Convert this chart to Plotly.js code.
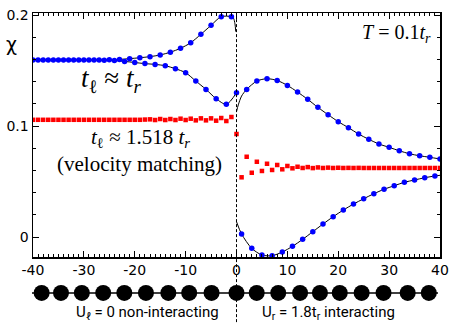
<!DOCTYPE html>
<html><head><meta charset="utf-8">
<script src="https://cdn.plot.ly/plotly-3.0.1.min.js"></script>
<style>html,body{margin:0;padding:0;background:#fff}#chart{width:450px;height:324px}</style>
</head><body><div id="chart"></div>
<script>
// Left lead (t_l ≈ t_r): odd sites (upper branch) and even sites (lower branch)
const leftOddX = [-39,-37,-35,-33,-31,-29,-27,-25,-23,-21,-19,-17,-15,-13,-11,-9,-7,-5,-3,-1];
const leftOddY = [0.1595,0.1595,0.1595,0.1595,0.1595,0.1595,0.1595,0.1597,0.16,0.1607,0.1615,0.1625,0.164,0.1665,0.170,0.175,0.1826,0.1907,0.1985,0.1985];
const leftEvenX = [-40,-38,-36,-34,-32,-30,-28,-26,-24,-22,-20,-18,-16,-14,-12,-10,-8,-6,-4,-2,0];
const leftEvenY = [0.1595,0.1595,0.1595,0.1595,0.1595,0.1595,0.1595,0.1593,0.159,0.1582,0.1572,0.1562,0.1555,0.1543,0.1516,0.148,0.1405,0.133,0.1246,0.1195,0.130];
// Right lead: even sites (upper branch) and odd sites (lower branch)
const rightEvenX = [2,4,6,8,10,12,14,16,18,20,22,24,26,28,30,32,34,36,38,40];
const rightEvenY = [0.133,0.1405,0.1426,0.141,0.1366,0.1306,0.124,0.1168,0.1102,0.1039,0.0985,0.0928,0.088,0.0838,0.0808,0.0777,0.075,0.0732,0.0718,0.0703];
const rightOddX = [1,3,5,7,9,11,13,15,17,19,21,23,25,27,29,31,33,35,37,39];
const rightOddY = [0.0027,-0.0102,-0.0162,-0.0168,-0.0135,-0.0084,-0.0021,0.0048,0.0117,0.0183,0.0243,0.0297,0.0345,0.039,0.043,0.0462,0.0493,0.0514,0.0534,0.055];
// Theory-curve end pieces near the junction
const upLeftEndX = [-0.6,-0.3,-0.15];  const upLeftEndY = [0.1972,0.192,0.185];
const upRightStartX = [0,0.35,1];      const upRightStartY = [0.1129,0.119,0.127];
const lowRightStartX = [0];            const lowRightStartY = [0.0138];
const lowRightEndX = [40];             const lowRightEndY = [0.0556];
// Velocity matching (t_l ≈ 1.518 t_r)
const redX = [];
for (let i = -40; i <= 40; i++) redX.push(i);
const redLeftY = [0.1056,0.1056,0.1056,0.1056,0.1056,0.1056,0.1056,0.1056,0.1056,0.1056,
  0.1056,0.1056,0.1056,0.1056,0.1056,0.1056,0.1056,0.1056,0.1056,0.1056,
  0.1056,0.1056,0.1058,0.106,0.1054,0.1063,0.1054,0.1063,0.1054,0.1066,
  0.1054,0.1066,0.1051,0.1069,0.1051,0.1069,0.1048,0.1072,0.1045,0.1081];
const redRightY = [0.0928,0.0538,0.0723,0.0579,0.0678,0.0595,0.066,0.0604,0.0649,0.061,
  0.064,0.0619,0.0633,0.0622,0.063,0.0621,0.0627,0.0622,0.0625,0.0622,
  0.0624,0.0622,0.0623,0.0622,0.0623,0.0622,0.0622,0.0622,0.0622,0.0622,
  0.0622,0.0622,0.0622,0.0622,0.0622,0.0622,0.0622,0.0622,0.0622,0.0622,0.0622];
const redY = redLeftY.concat(redRightY);
// Lattice sites drawn under the axis
const chainSites = [-38.3,-34.5,-30.4,-26.2,-22.05,-17.8,-13.4,-9.3,-4.9,0,3.97,8.2,12.5,16.4,20.3,24.6,28.9,33.65,37.8];
const xTicks = [-40,-30,-20,-10,0,10,20,30,40];
const yTicks = [0,0.1,0.2];
const yTickText = ['0','0.1','0.2'];

const xRange = [-40, 40];
const yRange = [-0.018, 0.2018];
const line = {color:'black', width:1, shape:'spline', smoothing:0.8};
const blueDot = {color:'#0000ff', size:5.5};
const traces = [
  {x: leftOddX.concat(upLeftEndX), y: leftOddY.concat(upLeftEndY), mode:'lines', line: line},
  {x: leftEvenX, y: leftEvenY, mode:'lines', line: line},
  {x: upRightStartX.concat(rightEvenX), y: upRightStartY.concat(rightEvenY), mode:'lines', line: line},
  {x: lowRightStartX.concat(rightOddX, lowRightEndX), y: lowRightStartY.concat(rightOddY, lowRightEndY), mode:'lines', line: line},
  {x: redX, y: redY, xaxis:'x2', yaxis:'y3', mode:'markers', marker:{symbol:'square', color:'#ff0000', size:4.5}},
  {x: leftOddX, y: leftOddY, mode:'markers', marker: blueDot},
  {x: leftEvenX, y: leftEvenY, mode:'markers', marker: blueDot},
  {x: rightEvenX, y: rightEvenY, mode:'markers', marker: blueDot},
  {x: rightOddX, y: rightOddY, mode:'markers', marker: blueDot},
  {x: chainSites, y: chainSites.map(() => 0), yaxis:'y2', mode:'markers', marker:{color:'black', size:16}, cliponaxis:false}
];
const plotL = 33, plotR = 440;
const tickStyle = {ticks: 'inside', ticklen: 6, tickwidth: 1, tickcolor: 'black', showgrid: false, zeroline: false};
const layout = {
  width: 450, height: 324,
  margin: {l: plotL, r: 450 - plotR, t: 13, b: 0},
  showlegend: false,
  paper_bgcolor: '#fff', plot_bgcolor: '#fff',
  font: {family: 'DejaVu Sans, sans-serif', size: 14, color: 'black'},
  xaxis: Object.assign({range: xRange, tickvals: xTicks, ticktext: xTicks.map(String),
    showline: true, linewidth: 1.5, linecolor: 'black', mirror: true,
    minor: {dtick: 1, ticks: 'inside', ticklen: 3, tickwidth: 1, tickcolor: 'black'},
    tickfont: {size: 14}}, tickStyle),
  xaxis2: Object.assign({range: xRange, overlaying: 'x', side: 'top', anchor: 'y', tickvals: xTicks, showticklabels: false,
    showline: false, minor: {dtick: 1, ticks: 'inside', ticklen: 3, tickwidth: 1, tickcolor: 'black'}}, tickStyle),
  yaxis: Object.assign({domain: [0.2154, 1], range: yRange, tickvals: yTicks, ticktext: yTickText,
    showline: true, linewidth: 1.5, linecolor: 'black', mirror: true,
    minor: {dtick: 0.02, tick0: 0, ticks: 'inside', ticklen: 3, tickwidth: 1, tickcolor: 'black'},
    tickfont: {size: 14}}, tickStyle),
  yaxis3: Object.assign({range: yRange, overlaying: 'y', side: 'right', anchor: 'x', tickvals: yTicks, showticklabels: false,
    showline: false, minor: {dtick: 0.02, tick0: 0, ticks: 'inside', ticklen: 3, tickwidth: 1, tickcolor: 'black'}}, tickStyle),
  yaxis2: {domain: [0, 0.2], range: [-1, 1], visible: false, anchor: 'x'},
  shapes: [
    {type: 'line', xref: 'x', yref: 'paper', x0: 0, x1: 0, y0: -0.01, y1: 1, line: {color: 'black', width: 1, dash: '3px,2px'}},
    {type: 'line', xref: 'paper', yref: 'y2', x0: (32 - plotL) / (plotR - plotL), x1: (438 - plotL) / (plotR - plotL), y0: 0, y1: 0, line: {color: 'black', width: 1.5}, layer: 'below'}
  ],
  annotations: [
    {xref: 'paper', yref: 'paper', x: -0.052, y: 0.9, text: 'χ', showarrow: false, font: {size: 19}, xanchor: 'center', yanchor: 'middle'},
    {xref: 'x', yref: 'y', x: 34.2, y: -0.0335, text: '<i>x</i>', showarrow: false, font: {size: 16}, xanchor: 'center', yanchor: 'middle'},
    {xref: 'x', yref: 'y', x: -24.7, y: 0.1415, text: '<i>t</i><sub>ℓ</sub> ≈ <i>t<sub>r</sub></i>', showarrow: false, font: {family: 'Liberation Serif, serif', size: 27}, xanchor: 'center', yanchor: 'middle'},
    {xref: 'x', yref: 'y', x: -18.8, y: 0.0895, text: '<i>t</i><sub>ℓ</sub> ≈ 1.518 <i>t<sub>r</sub></i>', showarrow: false, font: {family: 'Liberation Serif, serif', size: 21}, xanchor: 'center', yanchor: 'middle'},
    {xref: 'x', yref: 'y', x: -19.0, y: 0.0655, text: '(velocity matching)', showarrow: false, font: {family: 'Liberation Serif, serif', size: 21}, xanchor: 'center', yanchor: 'middle'},
    {xref: 'x', yref: 'y', x: 38.6, y: 0.1835, text: '<i>T</i> = 0.1<i>t<sub>r</sub></i>', showarrow: false, font: {family: 'Liberation Serif, serif', size: 20}, xanchor: 'right', yanchor: 'middle'},
    {xref: 'paper', yref: 'paper', x: (147 - plotL) / (plotR - plotL), y: (324 - 313) / 311, text: 'U<sub>ℓ</sub> = 0 non-interacting', showarrow: false, font: {family: 'Roboto, sans-serif', size: 15}, xanchor: 'center', yanchor: 'middle'},
    {xref: 'paper', yref: 'paper', x: (328 - plotL) / (plotR - plotL), y: (324 - 313) / 311, text: 'U<sub>r</sub> = 1.8t<sub>r</sub> interacting', showarrow: false, font: {family: 'Roboto, sans-serif', size: 15}, xanchor: 'center', yanchor: 'middle'}
  ]
};
Plotly.newPlot('chart', traces, layout, {staticPlot: true, displayModeBar: false});
</script></body></html>
